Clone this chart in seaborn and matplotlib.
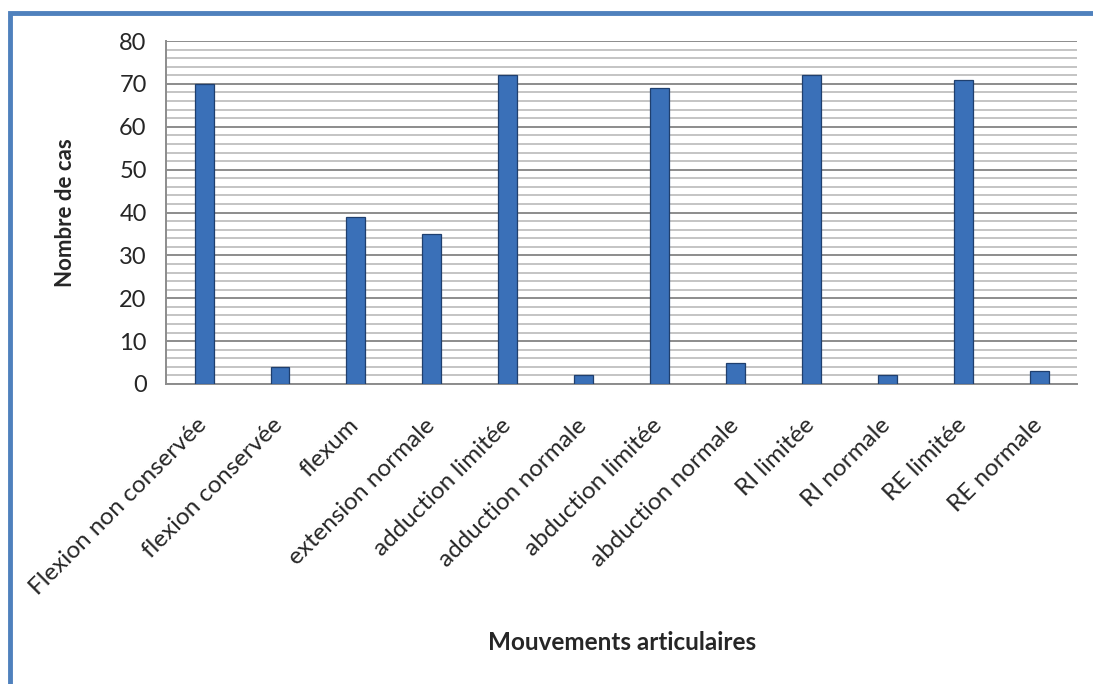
import pandas as pd
import matplotlib.pyplot as plt
import matplotlib.transforms as mtransforms
import seaborn as sns
from matplotlib.ticker import MultipleLocator
from matplotlib.patches import Rectangle

# data
mouvements = ['Flexion non conservée', 'flexion conservée', 'flexum', 'extension normale',
              'adduction limitée', 'adduction normale', 'abduction limitée', 'abduction normale',
              'RI limitée', 'RI normale', 'RE limitée', 'RE normale']
nombre_cas = [70, 4, 39, 35, 72, 2, 69, 5, 72, 2, 71, 3]
y_ticks = [0, 10, 20, 30, 40, 50, 60, 70, 80]


def main():
    sns.set_style('white')
    plt.rcParams['font.family'] = ['Lato', 'DejaVu Sans']

    df = pd.DataFrame({'Mouvement': mouvements, 'Cas': nombre_cas})

    fig = plt.figure(figsize=(10.93, 6.84), dpi=100)
    ax = fig.add_axes([0.152, 0.4386, 0.8334, 0.5014])

    sns.barplot(ax=ax, data=df, x='Mouvement', y='Cas', color='#3A70B8',
                width=0.25, edgecolor='#1F3F6E', linewidth=0.9, saturation=1, zorder=3)

    ax.set_ylim(0, 80)
    ax.set_xlim(-0.5, len(mouvements) - 0.5)
    ax.set_yticks(y_ticks)
    ax.yaxis.set_minor_locator(MultipleLocator(2))
    ax.grid(axis='y', which='major', color='#8C8C8C', linewidth=1.4, zorder=0)
    ax.grid(axis='y', which='minor', color='#C4C4C4', linewidth=1.4, zorder=0)
    ax.set_axisbelow(True)

    for side in ['top', 'right']:
        ax.spines[side].set_visible(False)
    for side in ['left', 'bottom']:
        ax.spines[side].set_color('#8C8C8C')
        ax.spines[side].set_linewidth(1.4)

    ax.tick_params(axis='y', which='major', length=7, width=1.4, color='#8C8C8C',
                   labelsize=17, pad=7)
    ax.tick_params(axis='y', which='minor', length=0)
    ax.tick_params(axis='x', length=0, labelsize=17.5, pad=22)
    # shift rotated labels a few pixels right so their ends sit just past the tick
    shift = mtransforms.ScaledTranslation(0.07, 0, fig.dpi_scale_trans)
    for lab in ax.get_xticklabels():
        lab.set_rotation(45)
        lab.set_ha('right')
        lab.set_transform(lab.get_transform() + shift)

    ax.set_ylabel('Nombre de cas', fontsize=16, fontweight='bold')
    ax.yaxis.set_label_coords(-0.099, 0.5)
    ax.set_xlabel('')
    fig.text(0.569, 0.061, 'Mouvements articulaires', fontsize=17.5, fontweight='bold',
             ha='center', va='center')

    # blue frame around the chart area
    fig.patches.append(Rectangle((0.0092, -0.05), 1.1, 1.031, transform=fig.transFigure,
                                 fill=False, edgecolor='#4F81BD', linewidth=3.5))

    fig.savefig('out.png', dpi=100)


if __name__ == "__main__":
    main()
